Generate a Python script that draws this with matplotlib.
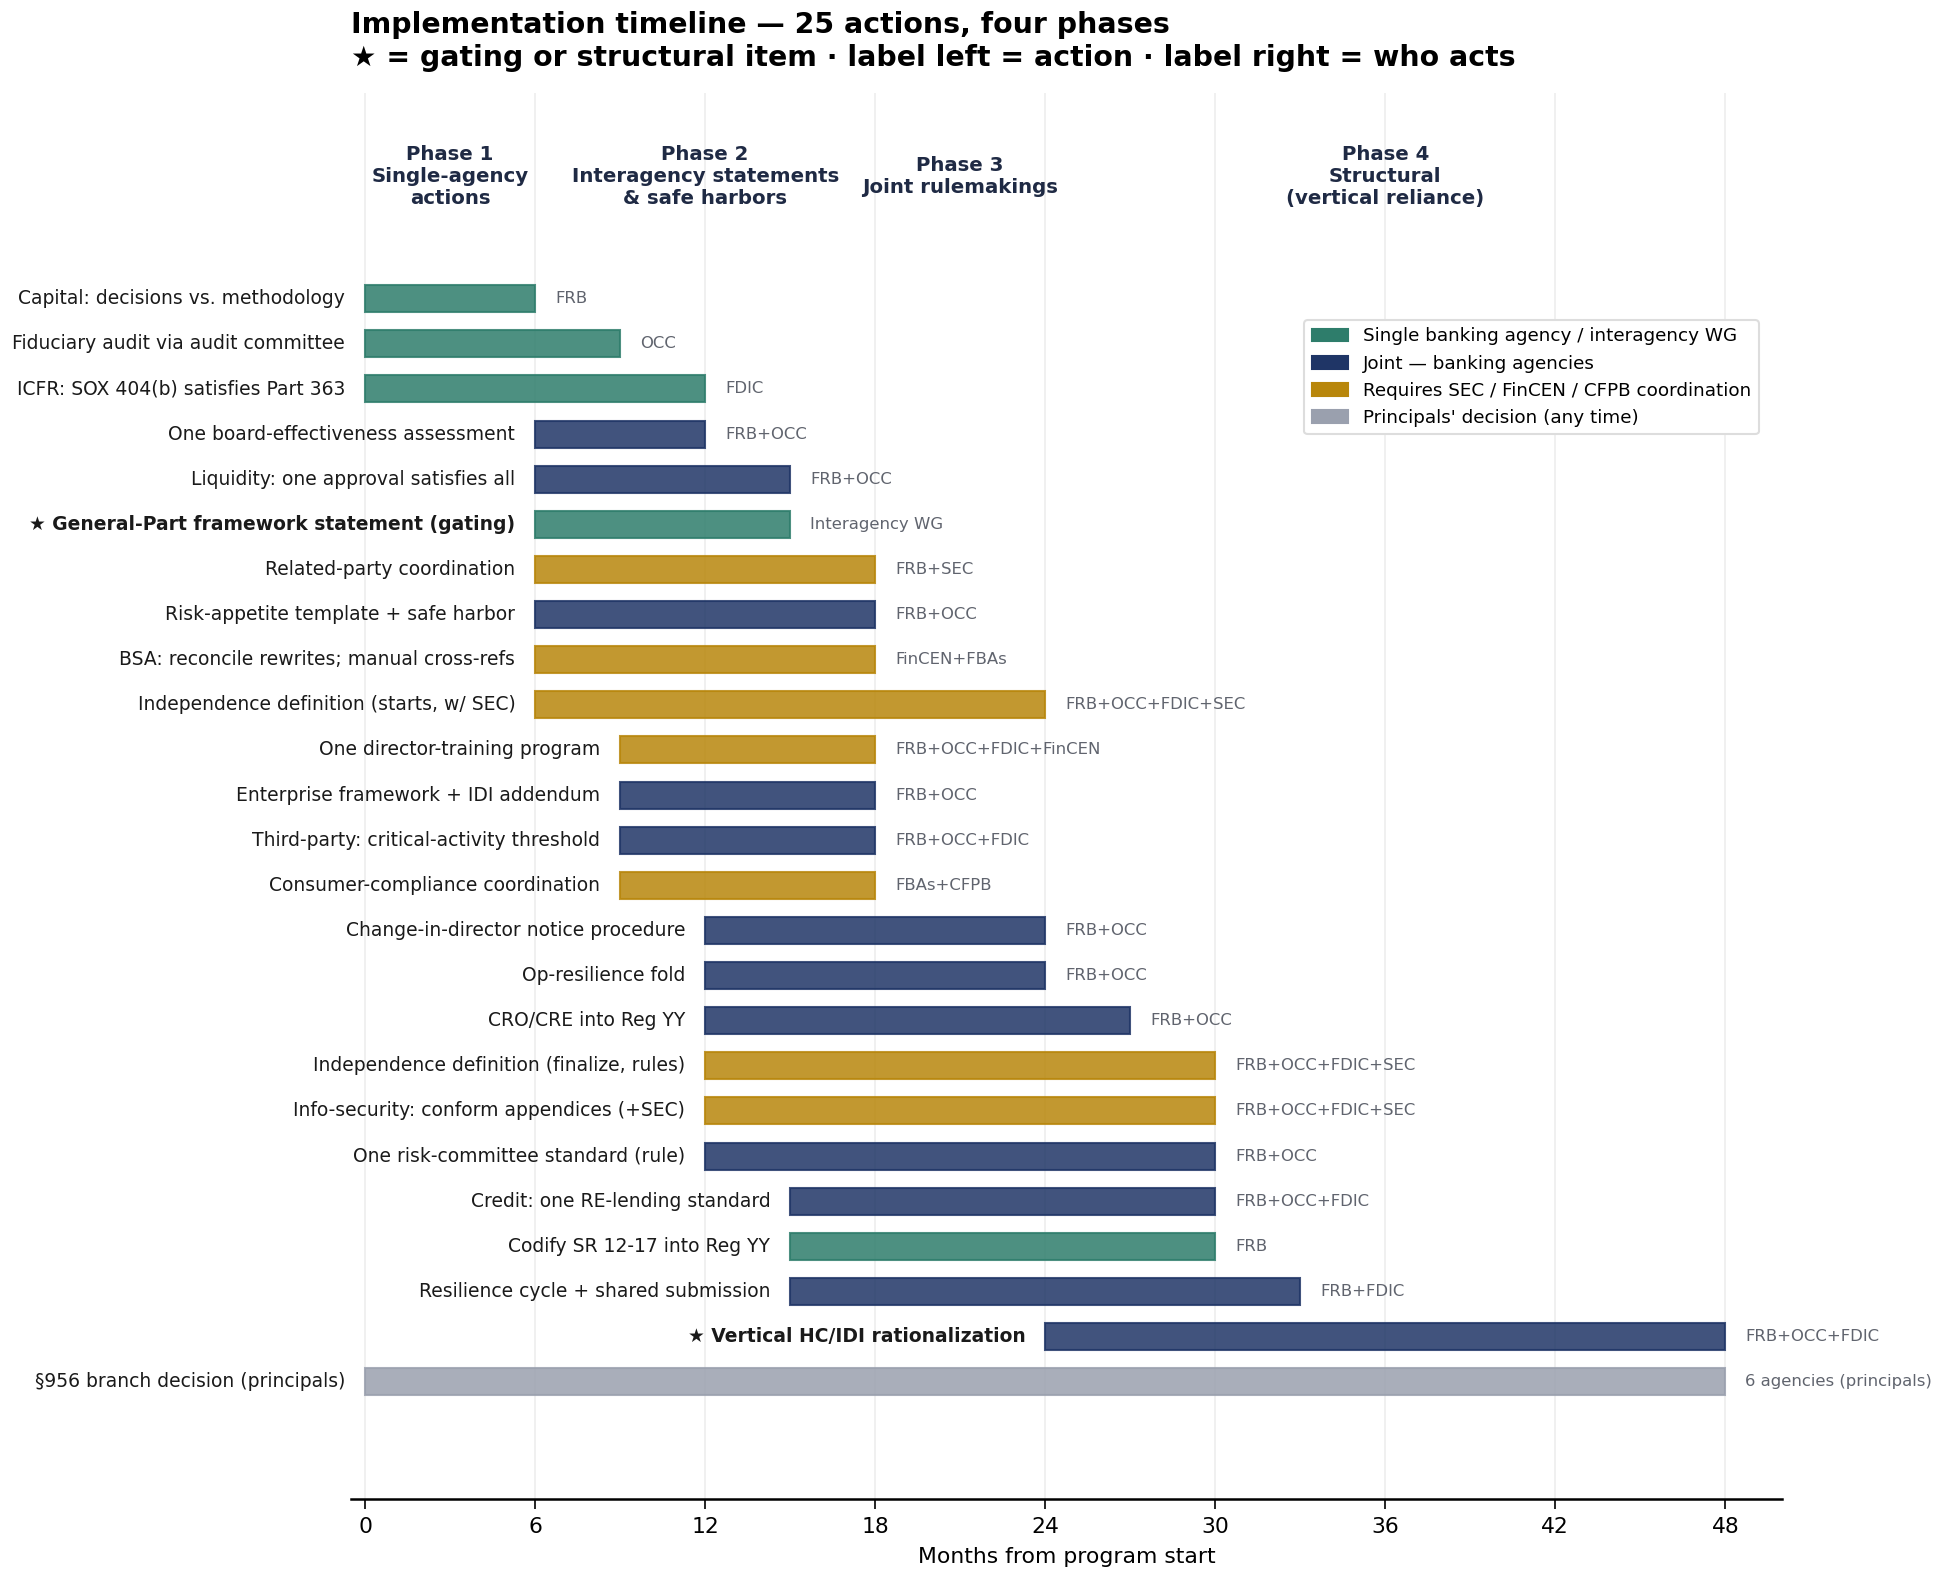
import matplotlib
matplotlib.use("Agg")
import matplotlib.pyplot as plt
from matplotlib.patches import Patch

actions = [
    "Capital: decisions vs. methodology",
    "Fiduciary audit via audit committee",
    "ICFR: SOX 404(b) satisfies Part 363",
    "One board-effectiveness assessment",
    "Liquidity: one approval satisfies all",
    "★ General-Part framework statement (gating)",
    "Related-party coordination",
    "Risk-appetite template + safe harbor",
    "BSA: reconcile rewrites; manual cross-refs",
    "Independence definition (starts, w/ SEC)",
    "One director-training program",
    "Enterprise framework + IDI addendum",
    "Third-party: critical-activity threshold",
    "Consumer-compliance coordination",
    "Change-in-director notice procedure",
    "Op-resilience fold",
    "CRO/CRE into Reg YY",
    "Independence definition (finalize, rules)",
    "Info-security: conform appendices (+SEC)",
    "One risk-committee standard (rule)",
    "Credit: one RE-lending standard",
    "Codify SR 12-17 into Reg YY",
    "Resilience cycle + shared submission",
    "★ Vertical HC/IDI rationalization",
    "§956 branch decision (principals)",
]
starts = [0, 0, 0, 6, 6, 6, 6, 6, 6, 6, 9, 9, 9, 9, 12, 12, 12, 12, 12, 12, 15, 15, 15, 24, 0]
ends = [6, 9, 12, 12, 15, 15, 18, 18, 18, 24, 18, 18, 18, 18, 24, 24, 27, 30, 30, 30, 30, 30, 33, 48, 48]
kinds = ["single", "single", "single", "joint", "joint", "single", "other", "joint", "other", "other",
         "other", "joint", "joint", "other", "joint", "joint", "joint", "other", "other", "joint",
         "joint", "single", "joint", "joint", "principals"]
who = ["FRB", "OCC", "FDIC", "FRB+OCC", "FRB+OCC", "Interagency WG", "FRB+SEC", "FRB+OCC",
       "FinCEN+FBAs", "FRB+OCC+FDIC+SEC", "FRB+OCC+FDIC+FinCEN", "FRB+OCC", "FRB+OCC+FDIC",
       "FBAs+CFPB", "FRB+OCC", "FRB+OCC", "FRB+OCC", "FRB+OCC+FDIC+SEC", "FRB+OCC+FDIC+SEC",
       "FRB+OCC", "FRB+OCC+FDIC", "FRB", "FRB+FDIC", "FRB+OCC+FDIC", "6 agencies (principals)"]

phase_names = ["Phase 1\nSingle-agency\nactions",
               "Phase 2\nInteragency statements\n& safe harbors",
               "Phase 3\nJoint rulemakings",
               "Phase 4\nStructural\n(vertical reliance)"]
phase_centers = [3, 12, 21, 36]

colors = {"single": "#2e7d6b", "joint": "#1f3566", "other": "#b8860b", "principals": "#9aa0ae"}
legend_labels = {"single": "Single banking agency / interagency WG",
                 "joint": "Joint — banking agencies",
                 "other": "Requires SEC / FinCEN / CFPB coordination",
                 "principals": "Principals' decision (any time)"}

fig = plt.figure(figsize=(12.96, 10.4667), dpi=150)
ax = fig.add_axes([0.1805, 0.0452, 0.7362, 0.8956])

for i in range(len(actions)):
    c = colors[kinds[i]]
    ax.barh(i, ends[i] - starts[i], left=starts[i], height=0.6, color=c, alpha=0.85,
            edgecolor=c, linewidth=1, zorder=3)
    bold = actions[i].startswith("★")
    ax.text(starts[i] - 0.7, i, actions[i], ha="right", va="center", fontsize=9.0,
            color="#1a1a1a", fontweight="bold" if bold else "normal")
    ax.text(ends[i] + 0.7, i, who[i], ha="left", va="center", fontsize=7.9, color="#60646e")

for x, name in zip(phase_centers, phase_names):
    ax.text(x, -2.7, name, ha="center", va="center", fontsize=9.5, fontweight="bold",
            color="#1f2a44", linespacing=1.2)

ax.set_xlim(-0.5, 50)
ax.set_ylim(26.6, -4.56)
ax.set_xticks(range(0, 49, 6))
ax.set_yticks([])
ax.grid(axis="x", color="#eeeeee", linewidth=0.8, zorder=0)
ax.set_axisbelow(True)
for s in ["left", "top", "right"]:
    ax.spines[s].set_visible(False)
ax.spines["bottom"].set_linewidth(1.2)
ax.tick_params(axis="x", labelsize=10.5, length=5)
ax.set_xlabel("Months from program start", fontsize=10.5, labelpad=5)

handles = [Patch(facecolor=colors[k], edgecolor=colors[k], label=legend_labels[k]) for k in colors]
ax.legend(handles=handles, loc="upper right", bbox_to_anchor=(0.99, 0.845), fontsize=8.8,
          frameon=True, framealpha=1, edgecolor="#dddddd", handlelength=2.0)

ax.set_title("Implementation timeline — 25 actions, four phases\n"
             "★ = gating or structural item · label left = action · label right = who acts",
             loc="left", fontsize=13.6, fontweight="bold", pad=13, x=0.0)

fig.savefig("out.png", dpi=150)
